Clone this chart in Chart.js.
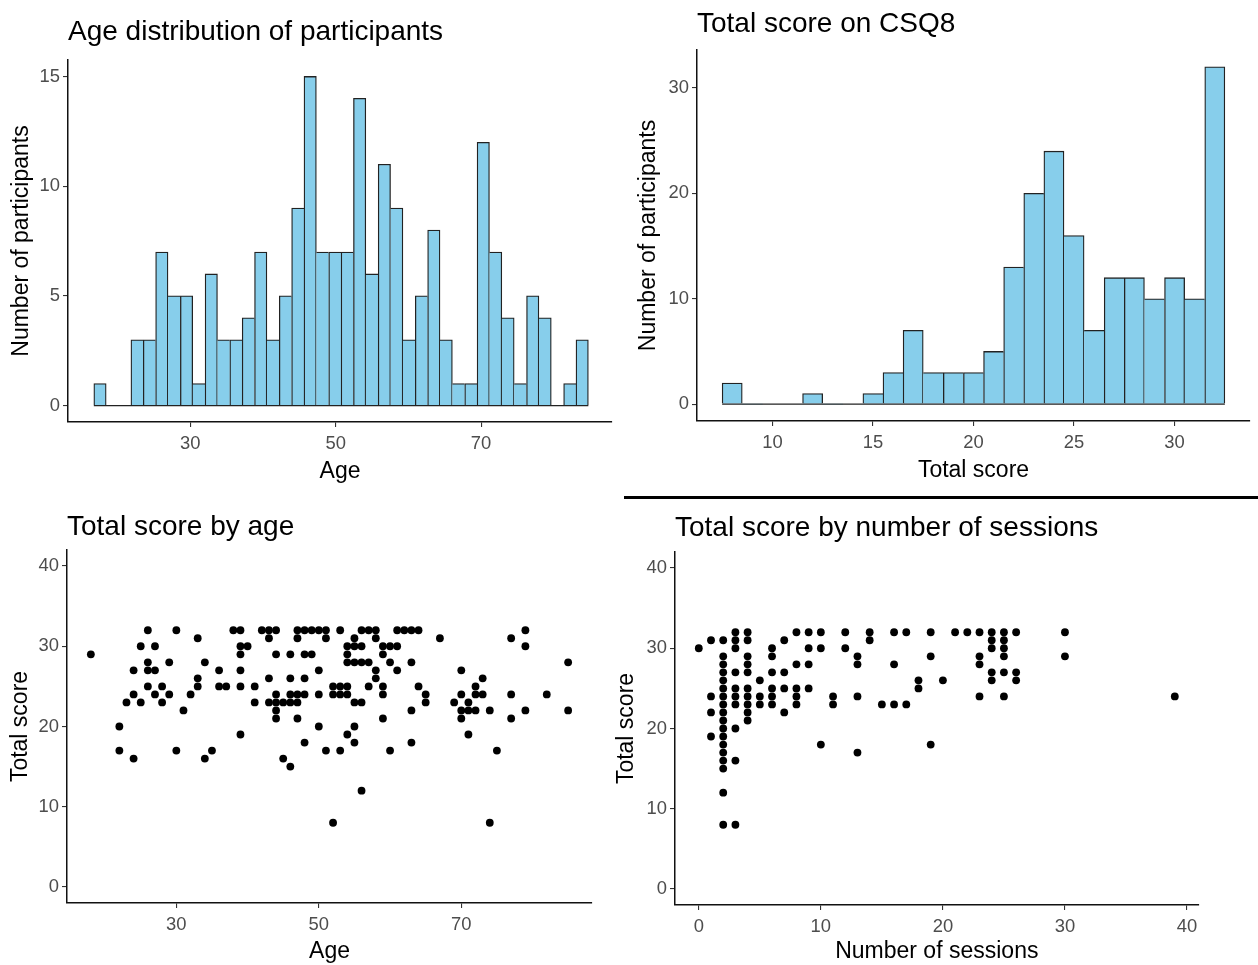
<!DOCTYPE html>
<html>
<head>
<meta charset="utf-8">
<script src="https://cdn.jsdelivr.net/npm/chart.js@4.4.1/dist/chart.umd.min.js"></script>
<style>
  html, body { margin: 0; padding: 0; background: #fff; }
  body { width: 1258px; height: 965px; position: relative; overflow: hidden; }
  .panel { position: absolute; }
  .rule { position: absolute; left: 624px; top: 496px; width: 634px; height: 3px; background: #000; }
</style>
</head>
<body>
<div class="panel" style="left:0;top:0;width:624px;height:490px"><canvas id="ageHist"></canvas></div>
<div class="panel" style="left:624px;top:0;width:634px;height:490px"><canvas id="scoreHist"></canvas></div>
<div class="rule"></div>
<div class="panel" style="left:0;top:500px;width:610px;height:465px"><canvas id="scoreByAge"></canvas></div>
<div class="panel" style="left:600px;top:500px;width:658px;height:465px"><canvas id="scoreBySessions"></canvas></div>

<script>
// age histogram (40 bins)
const ageBinCenters = [
  17.6, 19.3, 21.0, 22.7, 24.4, 26.1, 27.8, 29.5, 31.2, 32.9,
  34.6, 36.3, 38.0, 39.7, 41.4, 43.1, 44.8, 46.5, 48.2, 49.9,
  51.6, 53.3, 55.0, 56.7, 58.4, 60.1, 61.8, 63.5, 65.2, 66.9,
  68.6, 70.3, 72.0, 73.7, 75.4, 77.1, 78.8, 80.5, 82.2, 83.9,
];
const ageBinWidth = 1.7;
const ageCounts = [
  1, 0, 0, 3, 3, 7, 5, 5, 1, 6,
  3, 3, 4, 7, 3, 5, 9, 15, 7, 7,
  7, 14, 6, 11, 9, 3, 5, 8, 3, 1,
  1, 12, 7, 4, 1, 5, 4, 0, 1, 3,
];

// CSQ8 total score histogram (binwidth 1)
const scoreBinCenters = [8, 9, 10, 11, 12, 13, 14, 15, 16, 17, 18, 19, 20, 21, 22, 23, 24, 25, 26, 27, 28, 29, 30, 31, 32];
const scoreBinWidth = 1;
const scoreCounts = [2, 0, 0, 0, 1, 0, 0, 1, 3, 7, 3, 3, 3, 5, 13, 20, 24, 16, 7, 12, 12, 10, 12, 10, 32];

// [age, total score]
const agePoints = [
  [26, 32], [30, 32], [38, 32], [39, 32], [42, 32], [43, 32], [44, 32], [47, 32], [48, 32], [49, 32], [50, 32],
  [51, 32], [53, 32], [56, 32], [57, 32], [58, 32], [61, 32], [62, 32], [63, 32], [64, 32], [79, 32],
  [33, 31], [43, 31], [47, 31], [51, 31], [55, 31], [58, 31], [67, 31], [77, 31],
  [25, 30], [27, 30], [39, 30], [40, 30], [54, 30], [55, 30], [56, 30], [59, 30], [60, 30], [61, 30], [79, 30],
  [18, 29], [39, 29], [44, 29], [46, 29], [48, 29], [49, 29], [54, 29], [59, 29],
  [26, 28], [29, 28], [34, 28], [54, 28], [55, 28], [56, 28], [57, 28], [60, 28], [63, 28], [85, 28],
  [24, 27], [26, 27], [27, 27], [36, 27], [39, 27], [50, 27], [58, 27], [61, 27], [70, 27],
  [33, 26], [43, 26], [46, 26], [48, 26], [58, 26], [73, 26],
  [26, 25], [28, 25], [33, 25], [36, 25], [37, 25], [39, 25], [41, 25], [52, 25], [53, 25], [54, 25],
  [57, 25], [59, 25], [64, 25], [72, 25],
  [24, 24], [27, 24], [29, 24], [32, 24], [44, 24], [46, 24], [47, 24], [48, 24], [50, 24], [52, 24],
  [53, 24], [54, 24], [59, 24], [65, 24], [70, 24], [72, 24], [73, 24], [77, 24], [82, 24],
  [23, 23], [25, 23], [28, 23], [41, 23], [43, 23], [44, 23], [45, 23], [46, 23], [47, 23], [55, 23],
  [56, 23], [65, 23], [69, 23], [71, 23],
  [31, 22], [44, 22], [63, 22], [70, 22], [71, 22], [72, 22], [74, 22], [79, 22], [85, 22],
  [44, 21], [47, 21], [59, 21], [70, 21], [77, 21],
  [22, 20], [50, 20], [55, 20],
  [39, 19], [54, 19], [71, 19],
  [48, 18], [55, 18], [63, 18],
  [22, 17], [30, 17], [35, 17], [51, 17], [53, 17], [60, 17], [75, 17],
  [24, 16], [34, 16], [45, 16],
  [46, 15], [56, 12], [52, 8], [74, 8],
];

// [number of sessions, total score]
const sessionPoints = [
  [0, 30],
  [1, 31], [1, 24], [1, 22], [1, 19],
  [2, 31], [2, 29], [2, 28], [2, 27], [2, 26], [2, 25], [2, 24], [2, 23], [2, 22], [2, 21],
  [2, 20], [2, 19], [2, 18], [2, 17], [2, 16], [2, 15], [2, 12], [2, 8],
  [3, 32], [3, 31], [3, 30], [3, 27], [3, 25], [3, 24], [3, 23], [3, 20], [3, 16], [3, 8],
  [4, 32], [4, 31], [4, 29], [4, 28], [4, 27], [4, 25], [4, 24], [4, 23], [4, 22], [4, 21],
  [5, 26], [5, 24], [5, 23],
  [6, 30], [6, 29], [6, 27], [6, 25], [6, 24], [6, 23],
  [7, 31], [7, 27], [7, 25], [7, 22],
  [8, 32], [8, 28], [8, 25], [8, 24], [8, 23],
  [9, 32], [9, 30], [9, 28], [9, 25],
  [10, 32], [10, 30], [10, 18],
  [11, 24], [11, 23],
  [12, 32], [12, 30],
  [13, 29], [13, 28], [13, 24], [13, 17],
  [14, 32], [14, 31],
  [15, 23],
  [16, 32], [16, 28], [16, 23],
  [17, 32], [17, 23],
  [18, 26], [18, 25],
  [19, 32], [19, 29], [19, 18],
  [20, 26], [21, 32], [22, 32],
  [23, 32], [23, 29], [23, 28], [23, 24],
  [24, 32], [24, 31], [24, 30], [24, 27], [24, 26],
  [25, 32], [25, 31], [25, 30], [25, 29], [25, 27], [25, 24],
  [26, 32], [26, 27], [26, 26],
  [30, 32], [30, 29],
  [39, 24],
];

const ageHistXTicks = [30, 50, 70];
const ageHistYTicks = [0, 5, 10, 15];
const scoreHistXTicks = [10, 15, 20, 25, 30];
const scoreHistYTicks = [0, 10, 20, 30];
const ageXTicks = [30, 50, 70];
const sessionXTicks = [0, 10, 20, 30, 40];
const totalScoreTicks = [0, 10, 20, 30, 40];

Chart.defaults.font.family = '"Liberation Sans", Arial, sans-serif';
Chart.defaults.animation = false;

const BAR_FILL = "#87ceeb";
const INK = "#222";

function axis(o) {
  return {
    type: "linear",
    min: o.min,
    max: o.max,
    offset: false,
    afterBuildTicks: (scale) => {
      scale.ticks = o.ticks.map((v) => ({ value: v }));
    },
    afterFit: (scale) => {
      if (o.width != null) scale.width = o.width;
      if (o.height != null) scale.height = o.height;
    },
    grid: {
      offset: false,
      drawOnChartArea: false,
      drawTicks: true,
      tickLength: 5,
      color: "#333",
      lineWidth: 1.1,
    },
    border: { display: true, color: "#111", width: 1.5 },
    ticks: {
      color: "#4d4d4d",
      font: { size: 18.4 },
      padding: o.tickPad,
      maxRotation: 0,
      autoSkip: false,
    },
    title: {
      display: true,
      text: o.title,
      color: "#000",
      font: { size: 23, lineHeight: 1 },
      padding: o.titlePad,
    },
  };
}

function titleOpts(text, top, bottom) {
  return {
    display: true,
    text,
    align: "start",
    fullSize: false,
    color: "#000",
    font: { size: 28, weight: "normal" },
    padding: { top, bottom },
  };
}

// ggplot-like outlines: one line between neighbouring bars
function barBorders(counts) {
  return (ctx) => {
    const i = ctx.dataIndex;
    const v = counts[i];
    const prev = i > 0 ? counts[i - 1] : 0;
    const next = i < counts.length - 1 ? counts[i + 1] : 0;
    const w = 1.3;
    return { top: w, bottom: 0, left: prev <= v ? w : 0, right: next < v ? w : 0 };
  };
}

function histogram(id, centers, counts, binWidth, o) {
  const ctx = document.getElementById(id)?.getContext("2d");
  if (!ctx) return;
  new Chart(ctx, {
    type: "bar",
    data: {
      datasets: [
        {
          type: "line",
          data: [
            { x: centers[0] - binWidth / 2, y: 0 },
            { x: centers[centers.length - 1] + binWidth / 2, y: 0 },
          ],
          borderColor: INK,
          borderWidth: 1.3,
          pointRadius: 0,
          order: 1,
        },
        {
          data: counts.map((c, i) => ({ x: centers[i], y: c })),
          backgroundColor: BAR_FILL,
          borderColor: INK,
          borderWidth: barBorders(counts),
          borderSkipped: false,
          barPercentage: 1,
          categoryPercentage: 1,
          order: 2,
        },
      ],
    },
    options: {
      responsive: true,
      maintainAspectRatio: false,
      layout: { padding: o.padding },
      plugins: {
        legend: { display: false },
        tooltip: { enabled: false },
        title: o.title,
      },
      scales: { x: axis(o.x), y: axis(o.y) },
    },
  });
}

function scatter(id, points, o) {
  const ctx = document.getElementById(id)?.getContext("2d");
  if (!ctx) return;
  new Chart(ctx, {
    type: "scatter",
    data: {
      datasets: [
        {
          data: points.map(([x, y]) => ({ x, y })),
          backgroundColor: "#000",
          borderWidth: 0,
          pointRadius: 3.9,
        },
      ],
    },
    options: {
      responsive: true,
      maintainAspectRatio: false,
      layout: { padding: o.padding },
      plugins: {
        legend: { display: false },
        tooltip: { enabled: false },
        title: o.title,
      },
      scales: { x: axis(o.x), y: axis(o.y) },
    },
  });
}

histogram("ageHist", ageBinCenters, ageCounts, ageBinWidth, {
  padding: { left: 0, right: 12, top: 0, bottom: 0 },
  title: titleOpts("Age distribution of participants", 15.2, 11.2),
  x: { min: 13.2, max: 88.0, ticks: ageHistXTicks, title: "Age", height: 68, tickPad: 6, titlePad: { top: 0, bottom: 6.5 } },
  y: { min: -0.75, max: 15.75, ticks: ageHistYTicks, title: "Number of participants", width: 68, tickPad: 3, titlePad: { top: 10.5, bottom: 0 } },
});

histogram("scoreHist", scoreBinCenters, scoreCounts, scoreBinWidth, {
  padding: { left: 0, right: 8, top: 0, bottom: 0 },
  title: titleOpts("Total score on CSQ8", 7.2, 9.2),
  x: { min: 6.25, max: 33.75, ticks: scoreHistXTicks, title: "Total score", height: 69, tickPad: 6, titlePad: { top: 0, bottom: 7.5 } },
  y: { min: -1.6, max: 33.6, ticks: scoreHistYTicks, title: "Number of participants", width: 73, tickPad: 3, titlePad: { top: 13.5, bottom: 0 } },
});

scatter("scoreByAge", agePoints, {
  padding: { left: 0, right: 18, top: 0, bottom: 0 },
  title: titleOpts("Total score by age", 10.2, 6.2),
  x: { min: 14.65, max: 88.35, ticks: ageXTicks, title: "Age", height: 62, tickPad: 6, titlePad: { top: 0, bottom: 1.5 } },
  y: { min: -2, max: 42, ticks: totalScoreTicks, title: "Total score", width: 67, tickPad: 3, titlePad: { top: 9.5, bottom: 0 } },
});

scatter("scoreBySessions", sessionPoints, {
  padding: { left: 0, right: 59.4, top: 0, bottom: 0 },
  title: titleOpts("Total score by number of sessions", 11.2, 7.2),
  x: { min: -1.95, max: 40.95, ticks: sessionXTicks, title: "Number of sessions", height: 60, tickPad: 6, titlePad: { top: 0, bottom: 1.5 } },
  y: { min: -2, max: 42, ticks: totalScoreTicks, title: "Total score", width: 75, tickPad: 3, titlePad: { top: 15.5, bottom: 0 } },
});
</script>
</body>
</html>
